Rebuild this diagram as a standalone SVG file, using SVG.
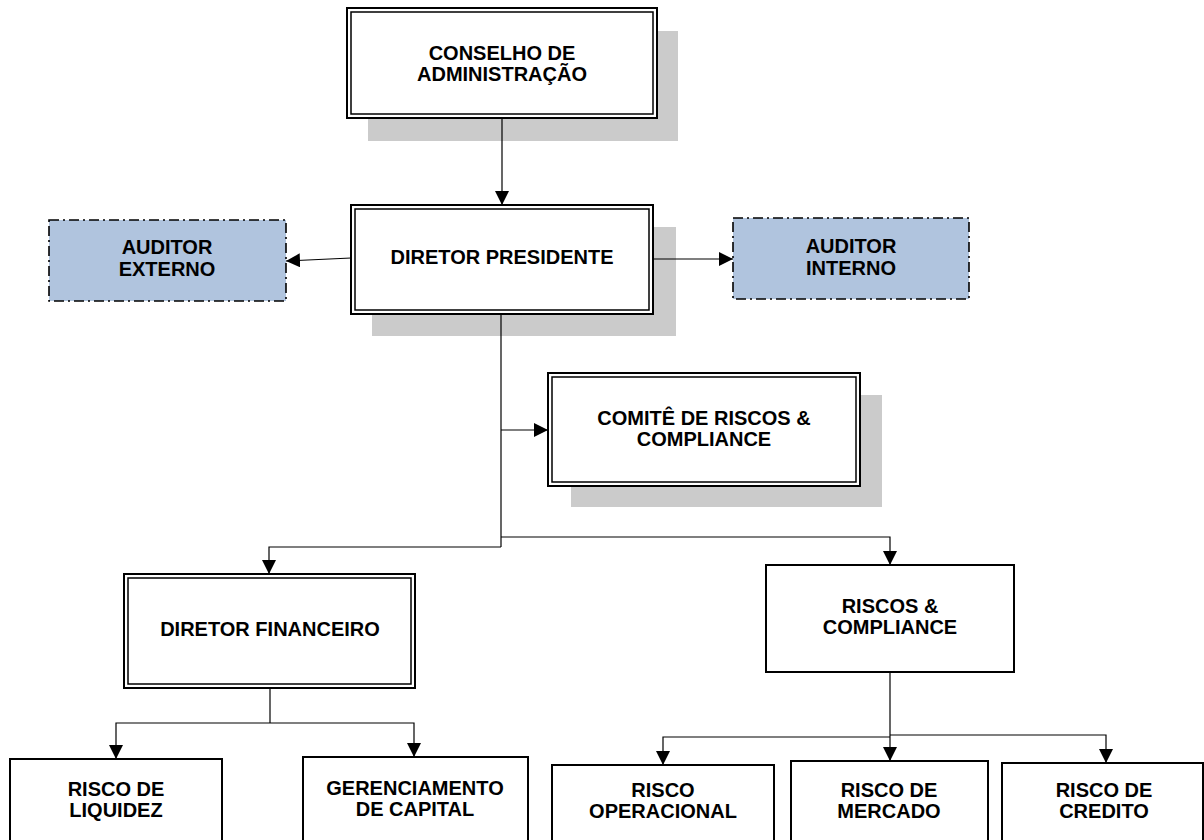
<svg xmlns="http://www.w3.org/2000/svg" width="1204" height="840" viewBox="0 0 1204 840">
<defs>
<marker id="arr" markerUnits="userSpaceOnUse" markerWidth="14" markerHeight="14" viewBox="0 0 14 14" refX="14" refY="7" orient="auto">
<path d="M0,0 L14,7 L0,14 Z" fill="#000"/>
</marker>
<style>
.shadow{fill:#cbcbcb;stroke:none}
.outer{fill:#fff;stroke:#000;stroke-width:2}
.inner{fill:none;stroke:#000;stroke-width:1.5}
.single{fill:#fff;stroke:#000;stroke-width:2}
.aud{fill:#b0c4de;stroke:#000;stroke-width:1.6;stroke-dasharray:10 4 2 4}
.t{font-family:"Liberation Sans",Arial,sans-serif;font-weight:bold;font-size:20px;fill:#000;text-anchor:middle}
.c{fill:none;stroke:#000;stroke-width:1.2}
</style>
</defs>
<rect width="1204" height="840" fill="#fff"/>

<g id="conselho">
<rect class="shadow" x="368" y="31" width="310" height="110"/>
<rect class="outer" x="347" y="8" width="310" height="110"/>
<rect class="inner" x="351" y="12" width="302" height="102"/>
<text class="t" x="502" y="60">CONSELHO DE</text>
<text class="t" x="502" y="81">ADMINISTRAÇÃO</text>
</g>

<g id="diretor-presidente">
<rect class="shadow" x="372" y="227" width="304" height="109"/>
<rect class="outer" x="351" y="205" width="302" height="109"/>
<rect class="inner" x="355" y="209" width="294" height="101"/>
<text class="t" x="502" y="264">DIRETOR PRESIDENTE</text>
</g>

<g id="auditor-externo">
<rect class="aud" x="49" y="220" width="237" height="81"/>
<text class="t" x="167" y="254">AUDITOR</text>
<text class="t" x="167" y="276">EXTERNO</text>
</g>

<g id="auditor-interno">
<rect class="aud" x="733" y="218" width="236" height="81"/>
<text class="t" x="851" y="253">AUDITOR</text>
<text class="t" x="851" y="275">INTERNO</text>
</g>

<g id="comite">
<rect class="shadow" x="571" y="395" width="311" height="112"/>
<rect class="outer" x="548" y="373" width="312" height="113"/>
<rect class="inner" x="552" y="377" width="304" height="105"/>
<text class="t" x="704" y="425">COMITÊ DE RISCOS &amp;</text>
<text class="t" x="704" y="446">COMPLIANCE</text>
</g>

<g id="diretor-financeiro">
<rect class="outer" x="124" y="574" width="291" height="114"/>
<rect class="inner" x="128" y="578" width="283" height="106"/>
<text class="t" x="270" y="636">DIRETOR FINANCEIRO</text>
</g>

<g id="riscos-compliance">
<rect class="single" x="766" y="565" width="248" height="107"/>
<text class="t" x="890" y="613">RISCOS &amp;</text>
<text class="t" x="890" y="634">COMPLIANCE</text>
</g>

<g id="risco-liquidez">
<rect class="single" x="10" y="759" width="212" height="100"/>
<text class="t" x="116" y="796">RISCO DE</text>
<text class="t" x="116" y="817">LIQUIDEZ</text>
</g>

<g id="gerenciamento-capital">
<rect class="single" x="303" y="757" width="225" height="100"/>
<text class="t" x="415" y="795">GERENCIAMENTO</text>
<text class="t" x="415" y="816">DE CAPITAL</text>
</g>

<g id="risco-operacional">
<rect class="single" x="552" y="765" width="222" height="100"/>
<text class="t" x="663" y="797">RISCO</text>
<text class="t" x="663" y="818">OPERACIONAL</text>
</g>

<g id="risco-mercado">
<rect class="single" x="791" y="761" width="197" height="100"/>
<text class="t" x="889" y="797">RISCO DE</text>
<text class="t" x="889" y="818">MERCADO</text>
</g>

<g id="risco-credito">
<rect class="single" x="1002" y="763" width="201" height="100"/>
<text class="t" x="1104" y="797">RISCO DE</text>
<text class="t" x="1104" y="818">CREDITO</text>
</g>

<g id="connectors">
<path class="c" d="M502,118 L502,205" marker-end="url(#arr)"/>
<path class="c" d="M351,258 L286,261" marker-end="url(#arr)"/>
<path class="c" d="M653,259 L733,259" marker-end="url(#arr)"/>
<path class="c" d="M501,314 L501,547"/>
<path class="c" d="M501,430 L548,430" marker-end="url(#arr)"/>
<path class="c" d="M501,547 L269,547 L269,574" marker-end="url(#arr)"/>
<path class="c" d="M501,537 L890,537 L890,565" marker-end="url(#arr)"/>
<path class="c" d="M270,688 L270,723"/>
<path class="c" d="M270,723 L116,723 L116,759" marker-end="url(#arr)"/>
<path class="c" d="M270,723 L414,723 L414,757" marker-end="url(#arr)"/>
<path class="c" d="M890,672 L890,761" marker-end="url(#arr)"/>
<path class="c" d="M890,737 L663,737 L663,765" marker-end="url(#arr)"/>
<path class="c" d="M890,735 L1106,735 L1106,763" marker-end="url(#arr)"/>
</g>
</svg>
